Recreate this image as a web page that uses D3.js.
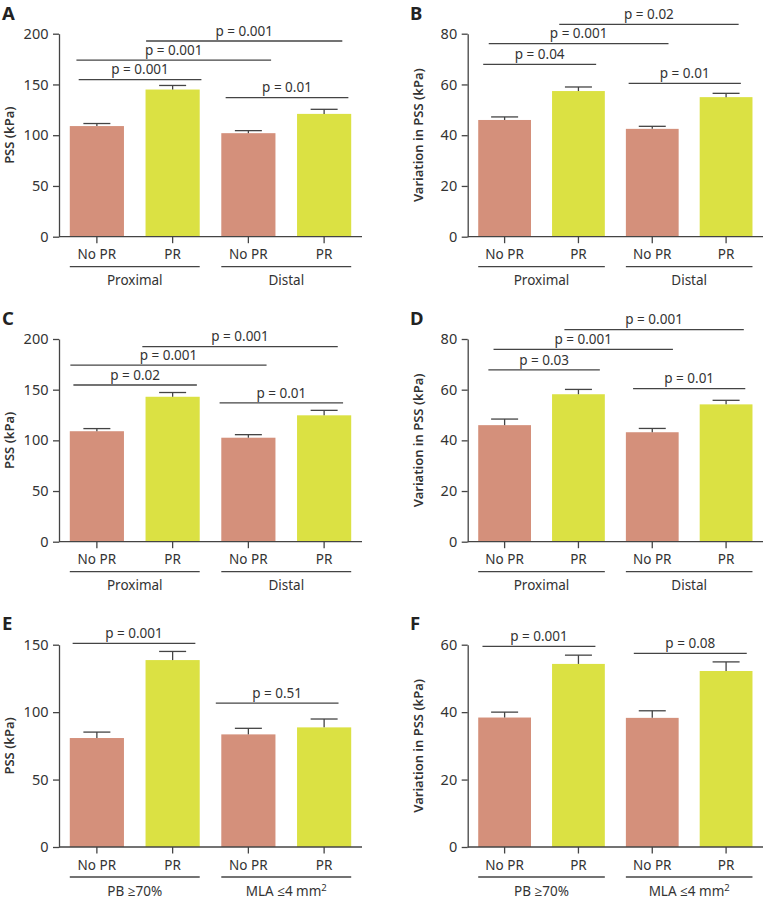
<!DOCTYPE html>
<html>
<head>
<meta charset="utf-8">
<script src="https://cdn.jsdelivr.net/npm/d3@7"></script>
<style>
  html, body { margin: 0; padding: 0; background: #fff; }
  svg { display: block; font-family: "Noto Sans", "Open Sans", sans-serif; }
</style>
</head>
<body>
<div id="chart"></div>
<script>
// ---------- DATA ----------
const categories = ["No PR", "PR", "No PR", "PR"];
const groupsLocation = ["Proximal", "Distal"];
const groupsSeverity = ["PB \u226570%", "MLA \u22644 mm"];

const ticksPSS200 = [0, 50, 100, 150, 200];
const ticksVar80 = [0, 20, 40, 60, 80];
const ticksPSS150 = [0, 50, 100, 150];
const ticksVar60 = [0, 20, 40, 60];

const meansA = [109, 145, 102, 121];
const errA = [2.5, 4, 2.5, 4.5];
const meansB = [46, 57.4, 42.5, 55];
const errB = [1.2, 1.6, 1.0, 1.5];
const meansC = [109, 143, 102.6, 124.7];
const errC = [2.6, 4.2, 3, 4.9];
const meansD = [46, 58.2, 43.2, 54.2];
const errD = [2.4, 1.9, 1.5, 1.6];
const meansE = [80.8, 138.6, 83.5, 88.7];
const errE = [4.4, 6.4, 4.5, 6.2];
const meansF = [38.4, 54.3, 38.3, 52.2];
const errF = [1.6, 2.6, 2.1, 2.7];

// comparison brackets: from/to in category-index units, level in data units
const bracketsA = [
  {from: 0.65, to: 3.24, level: 192.8, label: "p = 0.001"},
  {from: -0.27, to: 2.30, level: 174, label: "p = 0.001"},
  {from: -0.24, to: 1.38, level: 154.7, label: "p = 0.001"},
  {from: 1.70, to: 3.32, level: 137, label: "p = 0.01"}
];
const bracketsB = [
  {from: 0.74, to: 3.17, level: 83.7, label: "p = 0.02"},
  {from: -0.215, to: 2.22, level: 76.1, label: "p = 0.001"},
  {from: -0.29, to: 1.24, level: 67.9, label: "p = 0.04"},
  {from: 1.68, to: 3.20, level: 60.4, label: "p = 0.01"}
];
const bracketsC = [
  {from: 0.60, to: 3.18, level: 192.4, label: "p = 0.001"},
  {from: -0.35, to: 2.24, level: 174.3, label: "p = 0.001"},
  {from: -0.31, to: 1.32, level: 154.6, label: "p = 0.02"},
  {from: 1.62, to: 3.25, level: 136.9, label: "p = 0.01"}
];
const bracketsD = [
  {from: 0.81, to: 3.24, level: 83.7, label: "p = 0.001"},
  {from: -0.15, to: 2.28, level: 75.9, label: "p = 0.001"},
  {from: -0.22, to: 1.29, level: 67.8, label: "p = 0.03"},
  {from: 1.74, to: 3.26, level: 60.4, label: "p = 0.01"}
];
const bracketsE = [
  {from: -0.32, to: 1.30, level: 151, label: "p = 0.001"},
  {from: 1.57, to: 3.19, level: 106.7, label: "p = 0.51"}
];
const bracketsF = [
  {from: -0.30, to: 1.23, level: 59.5, label: "p = 0.001"},
  {from: 1.75, to: 3.28, level: 57.4, label: "p = 0.08"}
];

// ---------- LAYOUT ----------
const W = 765, H = 899;
const colX = [[59, 362], [467.7, 763]];
const rowY = [[33.7, 236.7], [339, 541.7], [644.7, 847]];
const letterBase = [20, 325, 630];
const letterX = [2, 410];
const barColors = ["#D4907B", "#DBE143", "#D4907B", "#DBE143"];
const ink = "#333";
const lineCol = "#444";

const panels = [
  {letter: "A", col: 0, row: 0, means: meansA, errs: errA, ticks: ticksPSS200, brackets: bracketsA, groups: groupsLocation, title: "PSS (kPa)"},
  {letter: "B", col: 1, row: 0, means: meansB, errs: errB, ticks: ticksVar80, brackets: bracketsB, groups: groupsLocation, title: "Variation in PSS (kPa)"},
  {letter: "C", col: 0, row: 1, means: meansC, errs: errC, ticks: ticksPSS200, brackets: bracketsC, groups: groupsLocation, title: "PSS (kPa)"},
  {letter: "D", col: 1, row: 1, means: meansD, errs: errD, ticks: ticksVar80, brackets: bracketsD, groups: groupsLocation, title: "Variation in PSS (kPa)"},
  {letter: "E", col: 0, row: 2, means: meansE, errs: errE, ticks: ticksPSS150, brackets: bracketsE, groups: groupsSeverity, title: "PSS (kPa)", sup: true},
  {letter: "F", col: 1, row: 2, means: meansF, errs: errF, ticks: ticksVar60, brackets: bracketsF, groups: groupsSeverity, title: "Variation in PSS (kPa)", sup: true}
];

const svg = d3.select("#chart").append("svg")
  .attr("width", W).attr("height", H);

panels.forEach(p => {
  const [x0, x1] = colX[p.col];
  const [yTop, yBot] = rowY[p.row];
  const g = svg.append("g");

  const x = d3.scaleBand().domain(d3.range(categories.length))
    .range([x0, x1]).paddingInner(0.285).paddingOuter(0.1425);
  const bw = x.bandwidth();
  const cx = i => x(i) + bw / 2;
  const xi = d3.scaleLinear().domain([0, 3]).range([cx(0), cx(3)]);
  const y = d3.scaleLinear().domain([0, d3.max(p.ticks)]).range([yBot, yTop]);

  // panel letter
  g.append("text").attr("x", letterX[p.col]).attr("y", letterBase[p.row])
    .attr("font-size", 18.5).attr("font-weight", 700).attr("fill", "#222")
    .text(p.letter);

  // y axis
  const ya = g.append("g").attr("transform", `translate(${x0},0)`)
    .call(d3.axisLeft(y).tickValues(p.ticks).tickSize(6).tickSizeOuter(0).tickPadding(4.5));
  ya.select(".domain").attr("stroke", lineCol).attr("stroke-width", 1.3);
  ya.selectAll(".tick line").attr("stroke", lineCol).attr("stroke-width", 1.3);
  ya.selectAll(".tick text").attr("font-size", 14.5).attr("fill", ink)
    .attr("font-family", "'Noto Sans', sans-serif");

  // y title
  g.append("text")
    .attr("transform", `translate(${x0 - 45},${(yTop + yBot) / 2}) rotate(-90)`)
    .attr("text-anchor", "middle").attr("font-size", 13).attr("font-weight", 600)
    .attr("fill", ink).text(p.title);

  // bars
  g.selectAll("rect.bar").data(p.means).join("rect").attr("class", "bar")
    .attr("x", (d, i) => x(i)).attr("width", bw)
    .attr("y", d => y(d)).attr("height", d => yBot - y(d))
    .attr("fill", (d, i) => barColors[i]);

  // error bars (upper only)
  p.means.forEach((m, i) => {
    const top = y(m + p.errs[i]);
    g.append("line").attr("x1", cx(i)).attr("x2", cx(i))
      .attr("y1", y(m)).attr("y2", top)
      .attr("stroke", lineCol).attr("stroke-width", 1.3);
    g.append("line").attr("x1", cx(i) - 13.5).attr("x2", cx(i) + 13.5)
      .attr("y1", top).attr("y2", top)
      .attr("stroke", lineCol).attr("stroke-width", 1.3);
  });

  // x axis line + ticks
  g.append("line").attr("x1", x0).attr("x2", x1).attr("y1", yBot).attr("y2", yBot)
    .attr("stroke", lineCol).attr("stroke-width", 1.3);
  categories.forEach((c, i) => {
    g.append("line").attr("x1", cx(i)).attr("x2", cx(i))
      .attr("y1", yBot).attr("y2", yBot + 6.5)
      .attr("stroke", lineCol).attr("stroke-width", 1.3);
    g.append("text").attr("x", cx(i)).attr("y", yBot + 22.5)
      .attr("text-anchor", "middle").attr("font-size", 13.5).attr("fill", ink)
      .text(c);
  });

  // group underlines + labels
  p.groups.forEach((gl, k) => {
    const a = x(2 * k), b = x(2 * k + 1) + bw;
    g.append("line").attr("x1", a).attr("x2", b)
      .attr("y1", yBot + 30).attr("y2", yBot + 30)
      .attr("stroke", lineCol).attr("stroke-width", 1.3);
    const t = g.append("text").attr("x", (a + b) / 2).attr("y", yBot + 48.5)
      .attr("text-anchor", "middle").attr("font-size", 13.5).attr("fill", ink)
      .text(gl);
    if (p.sup && k === 1) {
      t.append("tspan").attr("font-size", 9.5).attr("dy", -5).text("2");
    }
  });

  // comparison brackets
  p.brackets.forEach(bk => {
    const a = xi(bk.from), b = xi(bk.to), yy = y(bk.level);
    g.append("line").attr("x1", a).attr("x2", b).attr("y1", yy).attr("y2", yy)
      .attr("stroke", lineCol).attr("stroke-width", 1.3);
    g.append("text").attr("x", (a + b) / 2).attr("y", yy - 5.3)
      .attr("text-anchor", "middle").attr("font-size", 13.5).attr("fill", ink)
      .text(bk.label);
  });
});
</script>
</body>
</html>
